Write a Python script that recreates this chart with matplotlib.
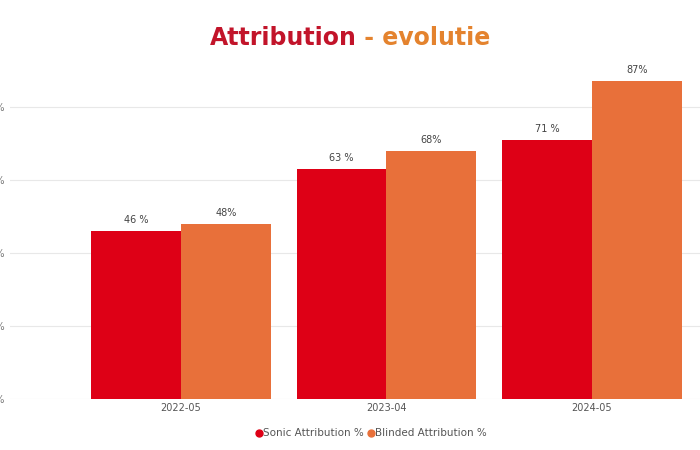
import numpy as np
import matplotlib.pyplot as plt
from matplotlib.lines import Line2D

# data
periods = ['2022-05', '2023-04', '2024-05']
sonic = [46, 63, 71]
blinded = [48, 68, 87]
sonic_labels = ['46 %', '63 %', '71 %']
blinded_labels = ['48%', '68%', '87%']
yticks = [0, 20, 40, 60, 80]

red = '#DE0016'
orange = '#E8703A'

fig = plt.figure(figsize=(7, 4.5), dpi=100)
ax = fig.add_axes([0.0143, 0.1133, 0.9857, 0.771])

x = np.arange(len(periods))
w = 0.437
ax.bar(x - w/2, sonic, w, color=red, zorder=3)
ax.bar(x + w/2, blinded, w, color=orange, zorder=3)

for xi, v, lab in zip(x, sonic, sonic_labels):
    ax.text(xi - w/2, v + 1.6, lab, ha='center', va='bottom', fontsize=7, color='#444444')
for xi, v, lab in zip(x, blinded, blinded_labels):
    ax.text(xi + w/2, v + 1.6, lab, ha='center', va='bottom', fontsize=7, color='#444444')

ax.set_xlim(-0.832, 2.526)
ax.set_ylim(0, 95)
ax.set_yticks(yticks)
# y labels sit mostly off the left edge, as in the original screenshot
ax.set_yticklabels([f'{t} %' for t in yticks], fontsize=7, color='#777777')
ax.set_xticks(x)
ax.set_xticklabels(periods, fontsize=7, color='#555555')
ax.tick_params(length=0, pad=3)
ax.tick_params(axis='y', pad=4)
ax.grid(axis='y', color='#e8e8e8', linewidth=0.8, zorder=0)
for s in ax.spines.values():
    s.set_visible(False)

# title in two colours
t1 = fig.text(0.5, 0.915, 'Attribution', ha='right', va='center', fontsize=17,
              fontweight='bold', color='#C2142A')
t2 = fig.text(0.5, 0.915, ' - evolutie', ha='left', va='center', fontsize=17,
              fontweight='bold', color='#E4832E')
fig.canvas.draw()
r = fig.canvas.get_renderer()
b1 = t1.get_window_extent(r)
b2 = t2.get_window_extent(r)
start = 350 - (b1.width + b2.width) / 2
t1.set_x((start + b1.width) / 700)
t2.set_x((start + b1.width) / 700)

handles = [Line2D([], [], marker='o', linestyle='', color=red, markersize=5),
           Line2D([], [], marker='o', linestyle='', color=orange, markersize=5)]
fig.legend(handles, ['Sonic Attribution %', 'Blinded Attribution %'],
           loc='center', bbox_to_anchor=(0.53, 0.037), ncol=2, frameon=False,
           fontsize=7.5, labelcolor='#555555', handletextpad=0.05, columnspacing=0.3,
           handlelength=0.7)

fig.savefig('out.png', dpi=100)
